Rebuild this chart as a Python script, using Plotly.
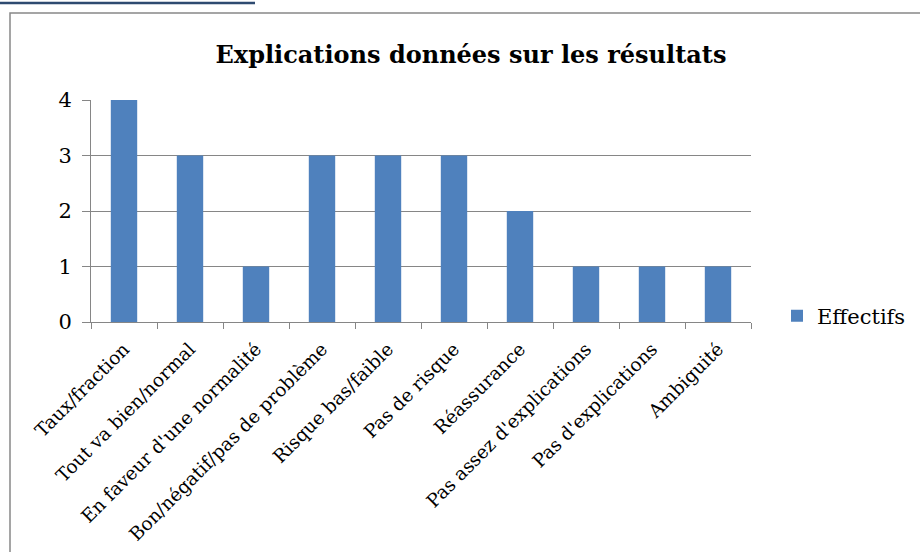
import plotly.graph_objects as go

categories = ["Taux/fraction", "Tout va bien/normal", "En faveur d'une normalité",
              "Bon/négatif/pas de problème", "Risque bas/faible", "Pas de risque",
              "Réassurance", "Pas assez d'explications", "Pas d'explications", "Ambiguité"]
effectifs = [4, 3, 1, 3, 3, 3, 2, 1, 1, 1]
y_ticks = [0, 1, 2, 3, 4]

FONT = "DejaVu Serif"
L, R, T, B = 91, 169, 100, 230
W, H = 920, 552
pw, ph = W - L - R, H - T - B

def px_x(x):
    return (x - L) / pw

def px_y(y):
    return (H - B - y) / ph

fig = go.Figure()
fig.add_trace(go.Bar(x=categories, y=effectifs, name="Effectifs",
                     marker=dict(color="#4F81BD", line=dict(width=0))))

fig.update_layout(
    width=W, height=H,
    margin=dict(l=L, r=R, t=T, b=B, autoexpand=False),
    paper_bgcolor="white", plot_bgcolor="white",
    bargap=0.6,
    font=dict(family=FONT, color="black"),
    title=dict(text="<b>Explications données sur les résultats</b>",
               x=471 / W, xanchor="center", y=1 - 55 / H, yanchor="middle",
               font=dict(size=24, family=FONT, color="black")),
    showlegend=True,
    legend=dict(x=px_x(777), y=px_y(316), xanchor="left", yanchor="middle",
                font=dict(size=21, family=FONT), itemwidth=30,
                bgcolor="rgba(0,0,0,0)"),
    xaxis=dict(tickangle=-45, tickfont=dict(size=18.5, family=FONT),
               ticks="outside", tickson="boundaries", ticklen=6, tickcolor="#868686",
               ticklabelstandoff=8,
               showline=True, linecolor="#868686", linewidth=1,
               showgrid=False, automargin=False),
    yaxis=dict(range=[0, 4], tickvals=y_ticks, tickfont=dict(size=21, family=FONT),
               ticks="outside", ticklen=8, tickcolor="#868686",
               ticklabelstandoff=6,
               showline=True, linecolor="#868686", linewidth=1,
               showgrid=True, gridcolor="#868686", gridwidth=1, zeroline=False,
               automargin=False),
)

fig.add_shape(type="rect", xref="paper", yref="paper",
              x0=px_x(10), x1=px_x(930), y0=px_y(570), y1=px_y(13),
              line=dict(color="#888888", width=1.5), layer="below")
fig.add_shape(type="line", xref="paper", yref="paper",
              x0=px_x(0), x1=px_x(255), y0=px_y(3), y1=px_y(3),
              line=dict(color="#2E4A70", width=2.5))

fig.write_html("out.html", config={"displayModeBar": False},
               post_script="document.body.style.margin='0';document.body.style.padding='0';")
